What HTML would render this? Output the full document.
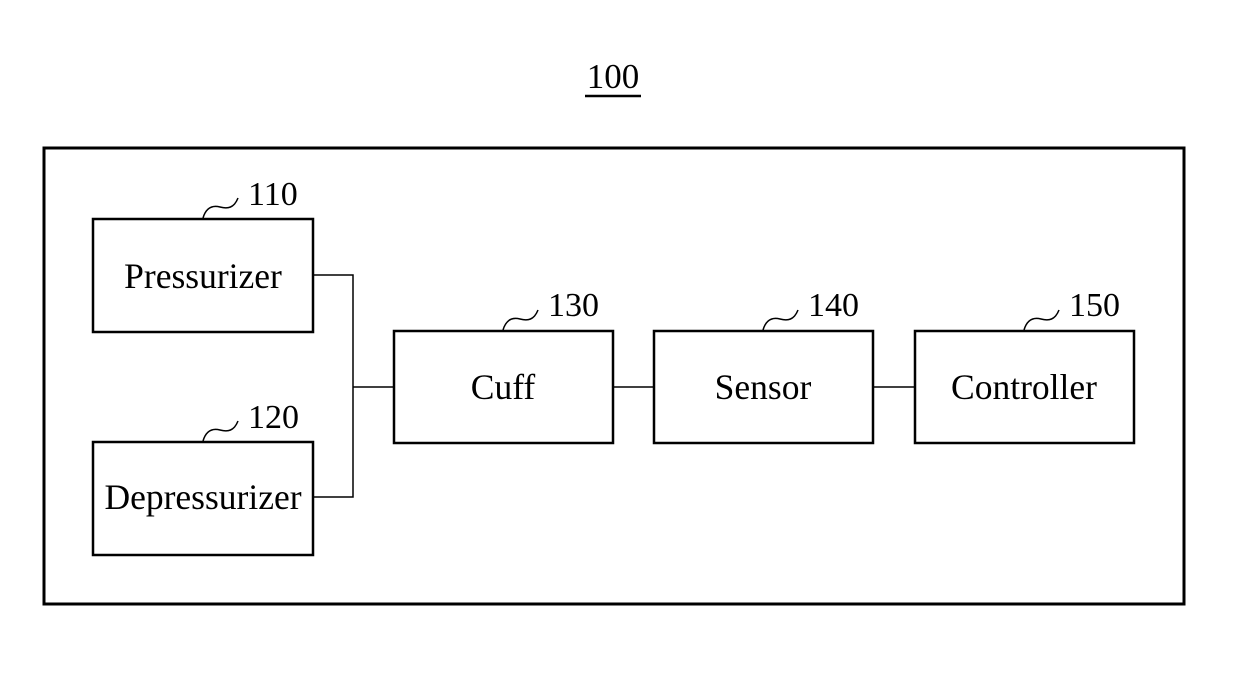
<!DOCTYPE html>
<html><head><style>
body{margin:0;background:#fff}
svg text{font-family:"Liberation Serif",serif;fill:#000}
</style></head><body>
<svg width="1239" height="687" viewBox="0 0 1239 687" xmlns="http://www.w3.org/2000/svg">
<text x="613" y="88" font-size="35" text-anchor="middle">100</text>
<line x1="585" y1="96" x2="641" y2="96" stroke="#000" stroke-width="2.5"/>
<rect x="44" y="148" width="1140" height="456" fill="none" stroke="#000" stroke-width="3"/>
<g fill="none" stroke="#000" stroke-width="2.5">
<rect x="93" y="219" width="220" height="113"/>
<rect x="93" y="442" width="220" height="113"/>
<rect x="394" y="331" width="219" height="112"/>
<rect x="654" y="331" width="219" height="112"/>
<rect x="915" y="331" width="219" height="112"/>
</g>
<g fill="none" stroke="#000" stroke-width="1.5">
<polyline points="313,275 353,275 353,497 313,497"/>
<line x1="353" y1="387" x2="394" y2="387"/>
<line x1="613" y1="387" x2="654" y2="387"/>
<line x1="873" y1="387" x2="915" y2="387"/>
<path d="M203,218 C206,208 212,205 220,207 C228,209 234,208 238,198"/>
<path d="M203,441 C206,431 212,428 220,430 C228,432 234,431 238,421"/>
<path d="M503,330 C506,320 512,317 520,319 C528,321 534,320 538,310"/>
<path d="M763,330 C766,320 772,317 780,319 C788,321 794,320 798,310"/>
<path d="M1024,330 C1027,320 1033,317 1041,319 C1049,321 1055,320 1059,310"/>
</g>
<g font-size="34">
<text x="248" y="205">110</text>
<text x="248" y="428">120</text>
<text x="548" y="316">130</text>
<text x="808" y="316">140</text>
<text x="1069" y="316">150</text>
</g>
<g font-size="35.5" text-anchor="middle">
<text x="203" y="288">Pressurizer</text>
<text x="203" y="509">Depressurizer</text>
<text x="503" y="399">Cuff</text>
<text x="763" y="399">Sensor</text>
<text x="1024" y="399">Controller</text>
</g>
</svg>
</body></html>
